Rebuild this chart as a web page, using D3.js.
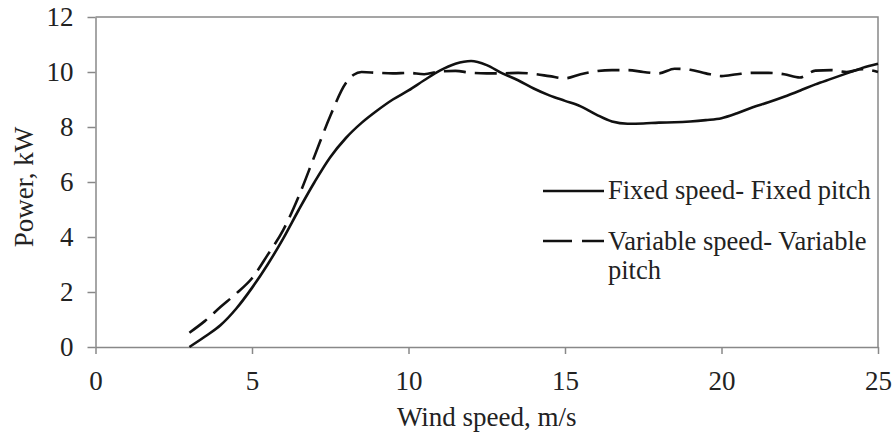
<!DOCTYPE html>
<html>
<head>
<meta charset="utf-8">
<script src="https://cdn.jsdelivr.net/npm/d3@7"></script>
<style>
body { margin: 0; background: #fff; }
text { font-family: "Liberation Serif", "Times New Roman", serif; fill: #222; }
</style>
</head>
<body>
<div id="chart"></div>
<script>
"use strict";
var w = 892;
var h = 436;

// wind speed (m/s) and power (kW)
var fixedX = [3, 3.5, 4, 4.5, 5, 5.5, 6, 6.5, 7, 7.5, 8, 8.5, 9, 9.5, 10, 10.5, 11, 11.5, 12, 12.5, 13, 13.5, 14, 14.5, 15, 15.5, 16, 16.5, 17, 17.5, 18, 18.5, 19, 19.5, 20, 20.5, 21, 21.5, 22, 22.5, 23, 23.5, 24, 24.5, 25];
var fixedY = [0, 0.38, 0.8, 1.4, 2.15, 3.0, 3.95, 5.0, 6.0, 6.9, 7.6, 8.15, 8.6, 9.0, 9.33, 9.7, 10.05, 10.3, 10.4, 10.25, 9.95, 9.7, 9.4, 9.15, 8.95, 8.75, 8.45, 8.2, 8.12, 8.13, 8.16, 8.17, 8.2, 8.25, 8.32, 8.5, 8.72, 8.9, 9.1, 9.32, 9.55, 9.75, 9.95, 10.15, 10.3];

var varX = [3, 3.5, 4, 4.5, 5, 5.5, 6, 6.5, 7, 7.5, 8, 8.25, 8.5, 9, 9.5, 10, 10.5, 11, 11.5, 12, 12.5, 13, 13.5, 14, 14.5, 15, 15.5, 16, 16.5, 17, 17.5, 18, 18.5, 19, 19.5, 20, 20.5, 21, 21.5, 22, 22.5, 23, 23.5, 24, 24.5, 25];
var varY = [0.52, 0.95, 1.46, 1.95, 2.5, 3.35, 4.26, 5.5, 6.95, 8.4, 9.6, 9.9, 10.0, 9.97, 9.95, 9.97, 9.92, 10.02, 10.04, 9.97, 9.95, 9.95, 9.97, 9.93, 9.85, 9.77, 9.92, 10.03, 10.07, 10.07, 10.0, 9.95, 10.12, 10.08, 9.95, 9.85, 9.92, 9.97, 9.97, 9.92, 9.8, 10.05, 10.07, 10.0, 10.1, 10.0];

var xTicks = [0, 5, 10, 15, 20, 25];
var yTicks = [0, 2, 4, 6, 8, 10, 12];
var seriesNames = ["Fixed speed- Fixed pitch", "Variable speed- Variable pitch"];

var margin = {left: 95.5, right: 14, top: 17, bottom: 89};

var svg = d3.select("#chart").append("svg")
    .attr("width", w)
    .attr("height", h);

var x = d3.scaleLinear().domain([0, 25]).range([margin.left, w - margin.right]);
var y = d3.scaleLinear().domain([0, 12]).range([h - margin.bottom, margin.top]);

// plot border (top + right)
svg.append("path")
    .attr("d", "M" + x(0) + "," + y(12) + "H" + x(25) + "V" + y(0))
    .attr("fill", "none")
    .attr("stroke", "#888")
    .attr("stroke-width", 1.5);

var xAxis = svg.append("g")
    .attr("transform", "translate(0," + y(0) + ")")
    .call(d3.axisBottom(x).tickValues(xTicks).tickSize(7).tickSizeOuter(0).tickPadding(17));
var yAxis = svg.append("g")
    .attr("transform", "translate(" + x(0) + ",0)")
    .call(d3.axisLeft(y).tickValues(yTicks).tickSize(8).tickSizeOuter(0).tickPadding(14));

[xAxis, yAxis].forEach(function(g) {
    g.select(".domain").attr("stroke", "#888").attr("stroke-width", 1.5);
    g.selectAll(".tick line").attr("stroke", "#888").attr("stroke-width", 1.5);
    g.selectAll(".tick text")
        .style("font-family", "'Liberation Serif', serif")
        .style("font-size", "27px")
        .attr("fill", "#222");
});

var line = d3.line()
    .x(function(d) { return x(d[0]); })
    .y(function(d) { return y(d[1]); })
    .curve(d3.curveMonotoneX);

var fixedData = d3.zip(fixedX, fixedY);
var varData = d3.zip(varX, varY);

svg.append("path")
    .datum(varData)
    .attr("d", line)
    .attr("fill", "none")
    .attr("stroke", "#111")
    .attr("stroke-width", 2.6)
    .attr("stroke-dasharray", "22,9");

svg.append("path")
    .datum(fixedData)
    .attr("d", line)
    .attr("fill", "none")
    .attr("stroke", "#111")
    .attr("stroke-width", 2.6);

// axis titles
svg.append("text")
    .attr("x", (x(0) + x(25)) / 2)
    .attr("y", 426)
    .attr("text-anchor", "middle")
    .style("font-size", "27px")
    .text("Wind speed, m/s");

svg.append("text")
    .attr("transform", "translate(33,187) rotate(-90)")
    .attr("text-anchor", "middle")
    .style("font-size", "27px")
    .text("Power, kW");

// legend
var legend = svg.append("g");
legend.append("line")
    .attr("x1", 543).attr("x2", 604)
    .attr("y1", 191).attr("y2", 191)
    .attr("stroke", "#111").attr("stroke-width", 2.6);
legend.append("text")
    .attr("x", 608).attr("y", 199)
    .style("font-size", "26.5px")
    .text(seriesNames[0]);

legend.append("line")
    .attr("x1", 543).attr("x2", 604)
    .attr("y1", 241).attr("y2", 241)
    .attr("stroke", "#111").attr("stroke-width", 2.6)
    .attr("stroke-dasharray", "29,10");
legend.append("text")
    .attr("x", 608).attr("y", 250)
    .style("font-size", "26.5px")
    .text("Variable speed- Variable");
legend.append("text")
    .attr("x", 608).attr("y", 279)
    .style("font-size", "26.5px")
    .text("pitch");
</script>
</body>
</html>
